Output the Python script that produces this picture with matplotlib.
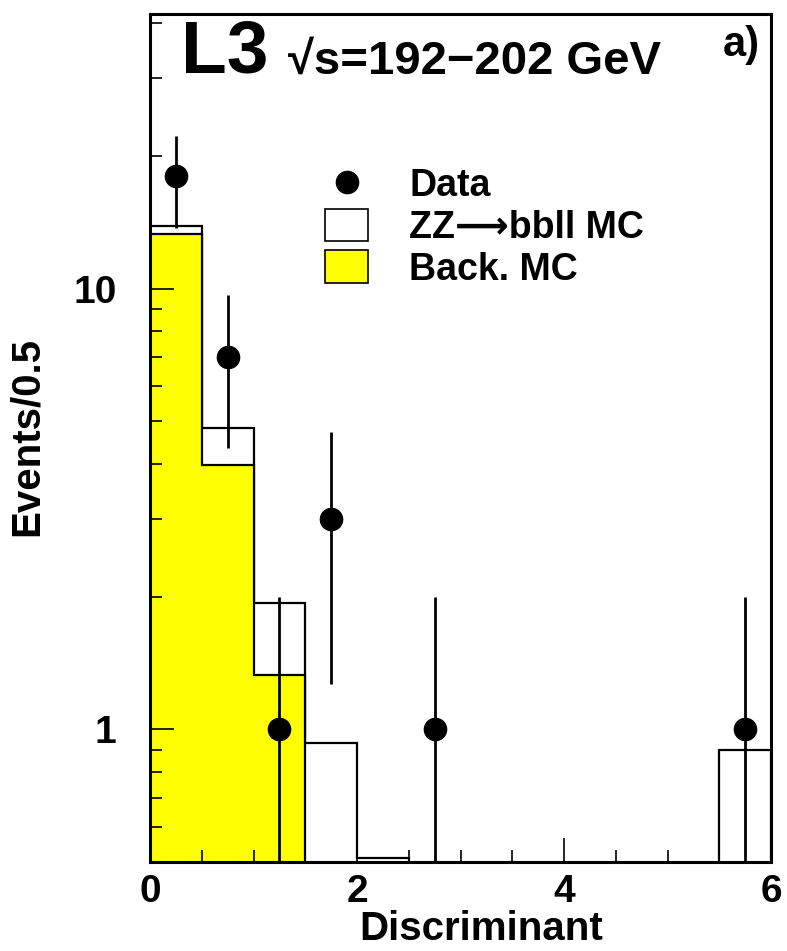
"""
L3 ZZ -> bbll discriminant plot, log scale, data vs stacked MC.
"""
import matplotlib
matplotlib.use("Agg")
import matplotlib.pyplot as plt
import matplotlib.patches as mpatches
from matplotlib.lines import Line2D
from matplotlib.ticker import LogLocator, FixedFormatter, FixedLocator, MultipleLocator
import numpy as np

# ── data ───────────────────────────────────────────────────────────────────
bin_edges = [0.0, 0.5, 1.0, 1.5, 2.0, 2.5, 3.0, 3.5, 4.0, 4.5, 5.0, 5.5, 6.0]
# ZZ MC stacked on top of background (total MC per bin)
total_mc = [13.9, 4.82, 1.94, 0.93, 0.51, 0, 0, 0, 0, 0, 0, 0.90]
back_mc = [13.3, 3.97, 1.33, 0, 0, 0, 0, 0, 0, 0, 0, 0]
data_x = [0.25, 0.75, 1.25, 1.75, 2.75, 5.75]
data_n = [18, 7, 1, 3, 1, 1]
data_err = [4.24, 2.65, 1.0, 1.73, 1.0, 1.0]

y_ticks = [1, 10]
y_tick_labels = ["1", "10"]

# ── style ──────────────────────────────────────────────────────────────────
YELLOW = "#FFFF00"
FONT = ["Liberation Sans", "DejaVu Sans"]
plt.rcParams["font.family"] = FONT
plt.rcParams["font.weight"] = "bold"
plt.rcParams["axes.unicode_minus"] = True

W, H, DPI = 787, 951, 100
fig = plt.figure(figsize=(W / DPI, H / DPI), dpi=DPI)
ax = fig.add_axes([150 / W, 1 - 862 / H, 621 / W, 848 / H])

YMIN, YMAX = 0.5, 42
floor = 1e-3  # empty bins drawn below the axis

tot = np.where(np.array(total_mc) > 0, total_mc, floor)
bkg = np.where(np.array(back_mc) > 0, back_mc, floor)

ax.stairs(tot, bin_edges, baseline=floor, fill=True, facecolor="white",
          edgecolor="none", zorder=1)
ax.stairs(tot, bin_edges, baseline=floor, color="black", linewidth=1.6, zorder=1.1)
ax.stairs(bkg, bin_edges, baseline=floor, fill=True, facecolor=YELLOW,
          edgecolor="none", zorder=1.2)
ax.stairs(bkg, bin_edges, baseline=floor, color="black", linewidth=1.6, zorder=1.3)

n = np.array(data_n, dtype=float)
err = np.array(data_err)
lower = n - np.maximum(n - err, floor)
ax.errorbar(data_x, n, yerr=[lower, err], fmt="o", color="black",
            markersize=16, elinewidth=2.0, capsize=0, zorder=3)

ax.set_yscale("log")
ax.set_xlim(0, 6)
ax.set_ylim(YMIN, YMAX)

ax.yaxis.set_major_locator(FixedLocator(y_ticks))
ax.yaxis.set_major_formatter(FixedFormatter(y_tick_labels))
ax.yaxis.set_minor_locator(LogLocator(base=10, subs=np.arange(2, 10)))
ax.yaxis.set_minor_formatter(FixedFormatter([]))
ax.xaxis.set_major_locator(MultipleLocator(2))
ax.xaxis.set_minor_locator(MultipleLocator(0.5))

ax.tick_params(which="both", direction="in", top=False, right=False, width=1.2)
ax.tick_params(which="major", length=17)
ax.tick_params(which="minor", length=8.5)
ax.tick_params(axis="x", which="major", labelsize=28, pad=9)
ax.tick_params(axis="y", which="major", labelsize=28, pad=24)
for lab in ax.get_xticklabels() + ax.get_yticklabels():
    lab.set_fontweight("bold")
for spine in ax.spines.values():
    spine.set_linewidth(2.2)
    spine.set_zorder(4)

# axis titles
fig.text(481 / W, 1 - 929 / H, "Discriminant", ha="center", va="center",
         fontsize=29, fontweight="bold")
fig.text(27 / W, 1 - 437 / H, "Events/0.5", ha="center", va="center",
         rotation=90, fontsize=29, fontweight="bold")

# header texts
ax.text(181 / W, 1 - 53 / H, "L3", transform=fig.transFigure, ha="left",
        va="center", fontsize=54, fontweight="bold")
ax.text(288 / W, 1 - 62 / H, "\u221as=192\u2212202 GeV", transform=fig.transFigure,
        ha="left", va="center", fontsize=34, fontweight="bold")
ax.text(760 / W, 1 - 45 / H, "a)", transform=fig.transFigure, ha="right",
        va="center", fontsize=30, fontweight="bold")

# legend
handles = [
    Line2D([], [], marker="o", color="black", linestyle="none", markersize=16),
    mpatches.Patch(facecolor="white", edgecolor="black", linewidth=1.2),
    mpatches.Patch(facecolor=YELLOW, edgecolor="black", linewidth=1.2),
]
labels = ["Data", "ZZ\u27f6bbll MC", "Back. MC"]
leg = ax.legend(handles, labels, loc="upper left",
                bbox_to_anchor=(325 / W, 1 - 167 / H),
                bbox_transform=fig.transFigure, frameon=False,
                prop={"size": 27, "weight": "bold"},
                handlelength=1.15, handleheight=0.96, handletextpad=1.1,
                labelspacing=0.12, borderpad=0, borderaxespad=0)
leg.get_texts()[1].set_fontfamily(["Liberation Sans", "DejaVu Sans"])

fig.savefig("out.png", dpi=DPI, facecolor="white")
